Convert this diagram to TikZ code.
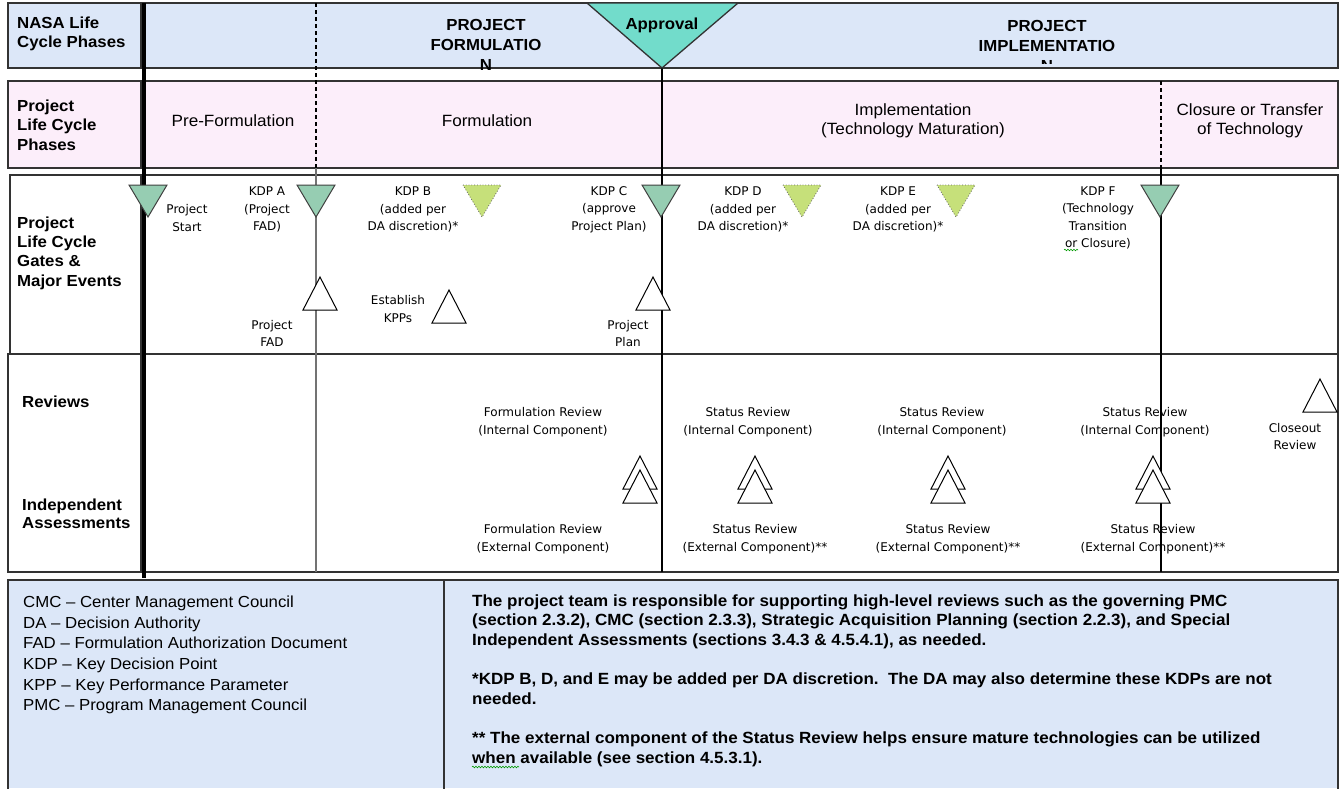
\documentclass[tikz,border=0pt]{standalone}
\usepackage{fontspec}
\setmainfont{Liberation Sans}[FakeStretch=1.05]
\newfontfamily\tinyfont{DejaVu Sans}
\usetikzlibrary{decorations.pathmorphing}
\definecolor{nasablue}{HTML}{DCE7F8}
\definecolor{phasepink}{HTML}{FCEEFA}
\definecolor{gatefill}{HTML}{96CDB2}
\definecolor{optfill}{HTML}{C6E07A}
\definecolor{apprfill}{HTML}{72DCCB}
\tikzset{
  frame/.style={draw=black!80, line width=1.3pt},
  hdr/.style={font=\bfseries\fontsize{16}{19.5}\selectfont, align=left, inner sep=0pt},
  hdrc/.style={font=\bfseries\fontsize{16}{20}\selectfont, align=center, inner sep=0pt},
  phase/.style={font=\fontsize{16.3}{19}\selectfont, align=center, inner sep=0pt},
  lbl/.style={font=\tinyfont\fontsize{12}{17.5}\selectfont, align=center, inner sep=0pt},
  gatetri/.style={draw=black!75, line width=1pt, fill=gatefill},
  opttri/.style={draw=black!60, line width=0.8pt, dotted, fill=optfill},
  revtri/.style={draw=black, line width=1pt, fill=white},
  vline/.style={draw=black, line width=1.2pt},
  gvline/.style={draw=black!55, line width=1.4pt},
  dline/.style={draw=black, line width=1.1pt, dash pattern=on 4pt off 3pt},
  spell/.style={draw=green!60!black, line width=0.6pt, decorate, decoration={snake, amplitude=0.8pt, segment length=3pt}},
}
\newcommand\downtri[3]{\path[#3] (#1-19,#2) -- (#1+19,#2) -- (#1,#2+32) -- cycle;}
\newcommand\uptri[2]{\path[revtri] (#1,#2) -- (#1+17,#2+33) -- (#1-17,#2+33) -- cycle;}
\begin{document}
\begin{tikzpicture}[x=1pt,y=-1pt]
\useasboundingbox (0,0) rectangle (1341,788);
% ---- rows ----
\path[frame, fill=nasablue] (8,3) rectangle (1338,68);
\path[frame, fill=phasepink] (8,81) rectangle (1338,168);
\path[frame, fill=white] (10,175) rectangle (1338,354);
\path[frame, fill=white] (8,354) rectangle (1338,572);
\fill[nasablue] (8,580) rectangle (1338,788);
\draw[frame] (8,790) -- (8,580) -- (1338,580) -- (1338,790);
\draw[frame] (444,580) -- (444,790);
% left column borders
\draw[frame] (141,3) -- (141,68);
\draw[frame] (141,81) -- (141,168);
\draw[frame] (141,175) -- (141,354);
\draw[frame] (141,354) -- (141,572);
% ---- vertical lines ----
\coordinate (t0) at (144,3);
\coordinate (b0) at (144,578);
\draw[line width=4pt] (t0) -- (b0);
\coordinate (ta) at (316,3);
\coordinate (ma) at (316,168);
\coordinate (ba) at (316,572);
\draw[dline] (ta) -- (ma);
\path[gvline] (ma) -- (ba);
\coordinate (tf) at (1161,81);
\coordinate (mf) at (1161,168);
\coordinate (bf) at (1161,572);
\draw[dline] (tf) -- (mf);
\path[vline] (mf) -- (bf);
\coordinate (apptip) at (662,68);
\coordinate (bc) at (662,572);
\path[vline] (apptip) -- (bc);
% approval
\path[draw=black!80, line width=1.3pt, fill=apprfill] (587,3) -- (738,3) -- (apptip) -- cycle;
\node[hdrc] (appr) at (662,25) {Approval};
% ---- row 1 text ----
\node[hdr, anchor=west] (nasa) at (17,34) {NASA Life\\Cycle Phases};
\node[hdrc] (pform) at (486,45) {PROJECT\\FORMULATIO\\N};
\begin{scope}
\clip (900,3) rectangle (1200,63.5);
\node[hdrc] (pimpl) at (1047,46) {PROJECT\\IMPLEMENTATIO\\N};
\end{scope}
% ---- row 2 text ----
\node[hdr, anchor=west] (plcp) at (17,125) {Project\\Life Cycle\\Phases};
\node[phase] (prefor) at (233,121) {Pre-Formulation};
\node[phase] (form) at (487,121) {Formulation};
\node[phase] (impl) at (913,121) {Implementation\\(Technology Maturation)};
\node[phase] (clos) at (1250,121) {Closure or Transfer\\of Technology};
% ---- row 3 ----
\node[font=\bfseries\fontsize{16}{19.3}\selectfont, align=left, inner sep=0pt, anchor=west] (gates) at (17,253) {Project\\Life Cycle\\Gates \&\\Major Events};
\downtri{148}{185}{gatetri}
\downtri{316}{185}{gatetri}
\downtri{482}{185}{opttri}
\downtri{661}{185}{gatetri}
\downtri{802}{185}{opttri}
\downtri{956}{185}{opttri}
\downtri{1160}{185}{gatetri}
\node[lbl] (pstart) at (187,218) {Project\\Start};
\node[lbl] (kdpa) at (267,209.5) {KDP A\\(Project\\FAD)};
\node[lbl] (kdpb) at (413,209.5) {KDP B\\(added per\\DA discretion)*};
\node[lbl] (kdpc) at (609,209.5) {KDP C\\(approve\\Project Plan)};
\node[lbl] (kdpd) at (743,209.5) {KDP D\\(added per\\DA discretion)*};
\node[lbl] (kdpe) at (898,209.5) {KDP E\\(added per\\DA discretion)*};
\node[lbl] (kdpf) at (1098,218) {KDP F\\(Technology\\Transition\\or Closure)};
\draw[spell] (1064,250) -- (1078,250);
\uptri{320}{277}
\uptri{449}{290}
\uptri{653}{277}
\node[lbl] (pfad) at (272,333.5) {Project\\FAD};
\node[lbl] (kpps) at (398,309) {Establish\\KPPs};
\node[lbl] (pplan) at (628,333.5) {Project\\Plan};
% ---- row 4 ----
\node[font=\bfseries\fontsize{16}{18}\selectfont, inner sep=0pt, anchor=west] (rev) at (22,402) {Reviews};
\node[font=\bfseries\fontsize{16}{18}\selectfont, align=left, inner sep=0pt, anchor=west] (ia) at (22,514) {Independent\\Assessments};
\node[lbl] (fri) at (543,422) {Formulation Review\\(Internal Component)};
\node[lbl] (fre) at (543,539) {Formulation Review\\(External Component)};
\node[lbl] (sr1i) at (748,422) {Status Review\\(Internal Component)};
\node[lbl] (sr1e) at (755,539) {Status Review\\(External Component)**};
\node[lbl] (sr2i) at (942,422) {Status Review\\(Internal Component)};
\node[lbl] (sr2e) at (948,539) {Status Review\\(External Component)**};
\node[lbl] (sr3i) at (1145,422) {Status Review\\(Internal Component)};
\node[lbl] (sr3e) at (1153,539) {Status Review\\(External Component)**};
\uptri{640}{456}\uptri{640}{470}
\uptri{755}{456}\uptri{755}{470}
\uptri{948}{456}\uptri{948}{470}
\uptri{1153}{456}\uptri{1153}{470}
\uptri{1320}{379}
\node[lbl] (close) at (1295,436.5) {Closeout\\Review};
% ---- legend ----
\node[font=\fontsize{16}{20.7}\selectfont, align=left, inner sep=0pt, anchor=west] (abbr) at (23,655) {CMC -- Center Management Council\\DA -- Decision Authority\\FAD -- Formulation Authorization Document\\KDP -- Key Decision Point\\KPP -- Key Performance Parameter\\PMC -- Program Management Council};
\node[font=\bfseries\fontsize{16.2}{19.6}\selectfont, align=left, inner sep=0pt, anchor=west] (notes) at (472,680.5) {The project team is responsible for supporting high-level reviews such as the governing PMC\\(section 2.3.2), CMC (section 2.3.3), Strategic Acquisition Planning (section 2.2.3), and Special\\Independent Assessments (sections 3.4.3 \& 4.5.4.1), as needed.\\\mbox{}\\*KDP B, D, and E may be added per DA discretion.\ \ The DA may also determine these KDPs are not\\needed.\\\mbox{}\\** The external component of the Status Review helps ensure mature technologies can be utilized\\when available (see section 4.5.3.1).};
\draw[spell] (472,767) -- (519,767);
\end{tikzpicture}
\end{document}
